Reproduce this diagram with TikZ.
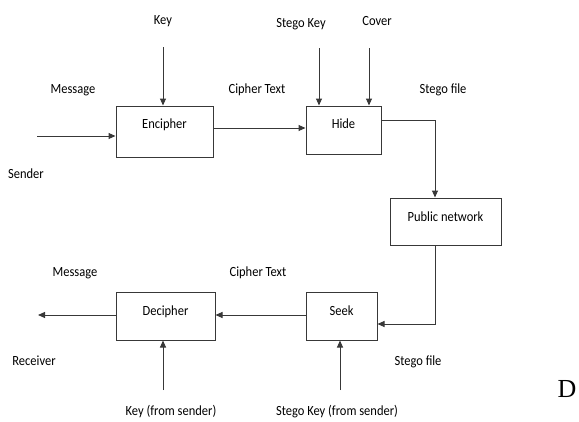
\documentclass[tikz,border=0pt]{standalone}
\usepackage{fontspec}
\setmainfont{Carlito}
\newfontfamily\dfont{Liberation Serif}
\usetikzlibrary{arrows.meta}
\newcommand\tallt[1]{\scalebox{1}[1.12]{#1}}
\tikzset{
  ln/.style={draw=black!78, line width=1pt},
  arr/.style={ln, -{Triangle[length=7pt,width=6pt]}},
  box/.style={draw=black!78, line width=1pt, rectangle, inner sep=0pt, text height=10pt, font=\fontsize{12.5}{14}\selectfont},
  lbl/.style={inner sep=0pt, font=\fontsize{12.5}{14}\selectfont}
}
\begin{document}
\begin{tikzpicture}[x=1pt,y=-1pt]
\useasboundingbox (0,0) rectangle (579,421);
% boxes
\node[box, minimum width=97pt, minimum height=51pt, text depth=17pt] (enc) at (164.5,131.5) {\tallt{Encipher}};
\node[box, minimum width=75pt, minimum height=48pt, text depth=13pt] (hide) at (343.5,130) {\tallt{Hide}};
\node[box, minimum width=111pt, minimum height=47pt, text depth=10pt] (pub) at (445.5,221.5) {\tallt{Public network}};
\node[box, minimum width=71pt, minimum height=48pt, text depth=11pt] (seek) at (341.5,316) {\tallt{Seek}};
\node[box, minimum width=99pt, minimum height=48pt, text depth=11pt] (dec) at (165.5,316) {\tallt{Decipher}};
% labels
\node[lbl] (lkey) at (163,21) {\tallt{Key}};
\node[lbl] (lmsg1) at (73,90) {\tallt{Message}};
\node[lbl] (lct1) at (257,90) {\tallt{Cipher Text}};
\node[lbl] (lsender) at (26,174) {\tallt{Sender}};
\node[lbl] (lskey) at (301,24) {\tallt{Stego Key}};
\node[lbl] (lcover) at (377,21) {\tallt{Cover}};
\node[lbl] (lsf1) at (443,90) {\tallt{Stego file}};
\node[lbl] (lmsg2) at (75,273) {\tallt{Message}};
\node[lbl] (lct2) at (258,273) {\tallt{Cipher Text}};
\node[lbl] (lrecv) at (34,361) {\tallt{Receiver}};
\node[lbl] (lkfs) at (171,412) {\tallt{Key (from sender)}};
\node[lbl] (lskfs) at (337,412) {\tallt{Stego Key (from sender)}};
\node[lbl] (lsf2) at (418,362) {\tallt{Stego file}};
\node[inner sep=0pt, font=\dfont\fontsize{26}{28}\selectfont] (dd) at (567,389) {D};
% free ends
\coordinate (msgin) at (37,136);
\coordinate (keyin) at (163,47);
\coordinate (skeyin) at (319,48);
\coordinate (coverin) at (369,48);
\coordinate (ctop) at (0,128);
\coordinate (hb) at (435,120);
\coordinate (pb) at (435,324);
\coordinate (cbot) at (0,315);
\coordinate (msgout) at (38,315);
\coordinate (kfs) at (163,390);
\coordinate (skfs) at (340,390);
% connectors
\draw[arr] (msgin) -- (msgin -| enc.west);
\draw[arr] (keyin) -- (keyin |- enc.north);
\draw[arr] (enc.east |- ctop) -- (hide.west |- ctop);
\draw[arr] (skeyin) -- (skeyin |- hide.north);
\draw[arr] (coverin) -- (coverin |- hide.north);
\draw[arr] (hide.east |- hb) -- (hb) -- (hb |- pub.north);
\draw[arr] (pb |- pub.south) -- (pb) -- (pb -| seek.east);
\draw[arr] (seek.west |- cbot) -- (dec.east |- cbot);
\draw[arr] (dec.west |- cbot) -- (msgout);
\draw[arr] (kfs) -- (kfs |- dec.south);
\draw[arr] (skfs) -- (skfs |- seek.south);
\end{tikzpicture}
\end{document}
